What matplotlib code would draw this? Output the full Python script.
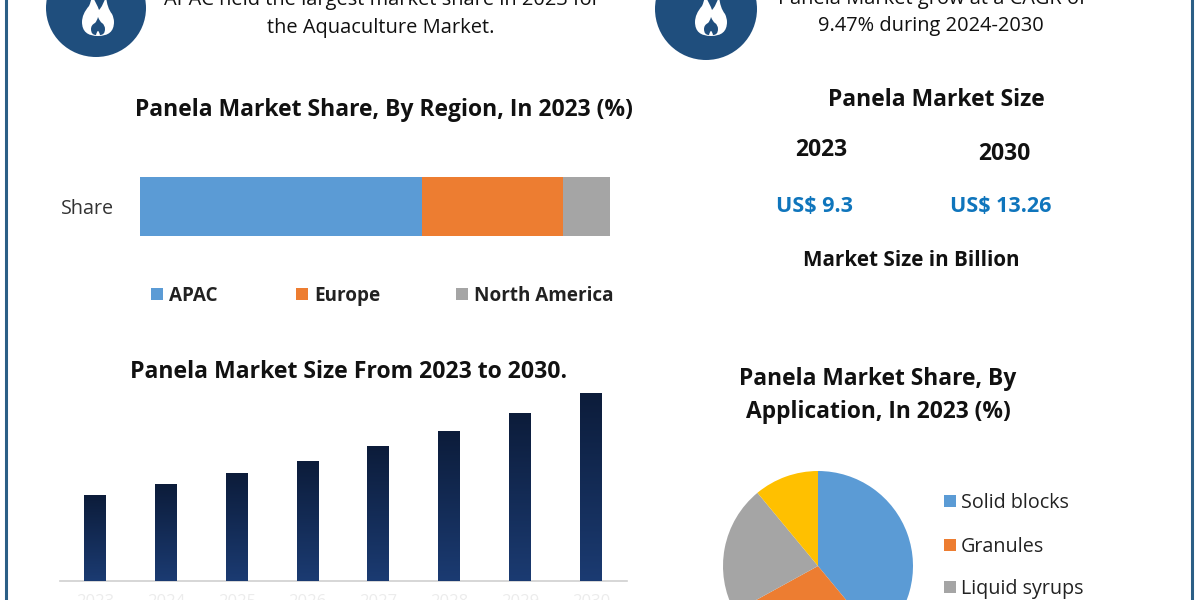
import matplotlib
matplotlib.use("Agg")
import matplotlib.pyplot as plt
from matplotlib.patches import Ellipse, Rectangle, PathPatch
from matplotlib.path import Path
import numpy as np

plt.rcParams['font.family'] = ['Open Sans', 'DejaVu Sans']

W, H = 1200, 600

region_names = ["APAC", "Europe", "North America"]
region_share = [60, 30, 10]
region_colors = ["#5b9bd5", "#ed7d31", "#a5a5a5"]

years = ["2023", "2024", "2025", "2026", "2027", "2028", "2029", "2030"]
# bar heights, the axis has no scale shown
size_values = [86, 97, 108, 120, 135, 150, 168, 188]

app_names = ["Solid blocks", "Granules", "Liquid syrups", ""]
app_share = [39, 28, 22, 11]
app_colors = ["#5b9bd5", "#ed7d31", "#a5a5a5", "#ffc000"]

FRAME = "#2b5f86"
ICON = "#1f4e7d"
TXT = "#111111"
BLUE_TXT = "#0f75bc"


def pixel_axes(x0, y0, x1, y1):
    # y measured from the top of the picture
    return fig.add_axes([x0 / W, 1 - y1 / H, (x1 - x0) / W, (y1 - y0) / H])


fig = plt.figure(figsize=(12, 6), dpi=100, facecolor="white")

# overlay in pixel coordinates for frame, icons and free text
bg = fig.add_axes([0, 0, 1, 1])
bg.set_xlim(0, W)
bg.set_ylim(H, 0)
bg.axis("off")

bg.plot([6, 6], [0, H], color=FRAME, lw=2.2)
bg.plot([1191.5, 1191.5], [0, H], color=FRAME, lw=2.2)


def flame(cx, bottom):
    outer = [(0, 0), (-16, 0), (-16, -14), (-16, -22), (-9, -30), (-7, -34), (-6, -40),
             (-1, -32), (1, -26), (5, -30), (8, -40), (9, -28), (14, -22), (16, -18),
             (16, -14), (16, 0), (0, 0)]
    verts = [(cx + a, bottom + b) for a, b in outer]
    bg.add_patch(PathPatch(Path(verts, [Path.MOVETO] + [Path.CURVE3] * 16), fc="white", ec="none", zorder=4))
    inner = [(-2, -1), (-7, -1), (-7, -7), (-7, -11), (-3, -13), (-1, -15), (0, -19),
             (2, -14), (4, -13), (7, -11), (7, -7), (7, -1), (2, -1), (1, -5), (0, -5), (-1, -5), (-2, -1)]
    verts = [(cx + a, bottom + b) for a, b in inner]
    bg.add_patch(PathPatch(Path(verts, [Path.MOVETO] + [Path.CURVE3] * 16), fc=ICON, ec="none", zorder=5))


bg.add_patch(Ellipse((96, 8), 100, 98, fc=ICON, ec="none"))
flame(98, 36)
bg.add_patch(Ellipse((706, 9), 102, 102, fc=ICON, ec="none"))
flame(711, 36)

bg.text(382, 0, "APAC held the largest market share in 2023 for", ha="center", va="center", fontsize=14.4, color=TXT)
bg.text(381, 28, "the Aquaculture Market.", ha="center", va="center", fontsize=14.4, color=TXT)
bg.text(932, -1, "Panela Market grow at a CAGR of", ha="center", va="center", fontsize=14.4, color=TXT)
bg.text(931, 26, "9.47% during 2024-2030", ha="center", va="center", fontsize=14.4, color=TXT)

bg.text(384, 110, "Panela Market Share, By Region, In 2023 (%)", ha="center", va="center", fontsize=16.5, fontweight="bold", color=TXT)
bg.text(349, 372, "Panela Market Size From 2023 to 2030.", ha="center", va="center", fontsize=16.6, fontweight="bold", color=TXT)
bg.text(936, 100, "Panela Market Size", ha="center", va="center", fontsize=16.5, fontweight="bold", color=TXT)
bg.text(821, 150, "2023", ha="center", va="center", fontsize=16.5, fontweight="bold", color=TXT)
bg.text(1004, 154, "2030", ha="center", va="center", fontsize=16.5, fontweight="bold", color=TXT)
bg.text(814, 207, "US$ 9.3", ha="center", va="center", fontsize=15.5, fontweight="bold", color=BLUE_TXT)
bg.text(1001, 207, "US$ 13.26", ha="center", va="center", fontsize=15.5, fontweight="bold", color=BLUE_TXT)
bg.text(911, 260, "Market Size in Billion", ha="center", va="center", fontsize=14.9, fontweight="bold", color=TXT)
bg.text(878, 379, "Panela Market Share, By", ha="center", va="center", fontsize=16.4, fontweight="bold", color=TXT)
bg.text(878, 412, "Application, In 2023 (%)", ha="center", va="center", fontsize=16.4, fontweight="bold", color=TXT)

# stacked share bar
ax1 = pixel_axes(140, 177, 610, 236)
left = 0
for name, val, col in zip(region_names, region_share, region_colors):
    ax1.barh(["Share"], [val], left=left, height=1.0, color=col)
    left += val
ax1.set_xlim(0, sum(region_share))
ax1.set_ylim(-0.5, 0.5)
ax1.axis("off")
bg.text(88, 209, "Share", ha="center", va="center", fontsize=14.2, color="#333333")

for x, name, col in zip([151, 296, 456], region_names, region_colors):
    bg.add_patch(Rectangle((x, 288), 12, 12, fc=col, ec="none"))
    bg.text(x + 18, 296, name, ha="left", va="center", fontsize=13.6, fontweight="bold", color="#222222")

# size bars with the vertical gradient
ax2 = pixel_axes(60, 380, 627, 581)
xs = np.arange(len(years))
bars = ax2.bar(xs, size_values, width=22 / 71, color="#16305f")
grad = np.linspace(0, 1, 256).reshape(-1, 1)
cmap = matplotlib.colors.LinearSegmentedColormap.from_list("navy", ["#0c1c3a", "#1b3b72"])
for b in bars:
    ax2.imshow(grad, extent=[b.get_x(), b.get_x() + b.get_width(), 0, b.get_height()],
               aspect="auto", cmap=cmap, zorder=3)
ax2.set_xlim(-35 / 71, 7 + 36 / 71)
ax2.set_ylim(0, 201)
for s in ["top", "left", "right"]:
    ax2.spines[s].set_visible(False)
ax2.spines["bottom"].set_color("#d0d0d0")
ax2.spines["bottom"].set_linewidth(1.2)
ax2.set_yticks([])
ax2.set_xticks(xs, years, fontsize=12, color="#ececec")
ax2.tick_params(axis="x", length=0, pad=9)

# pie, runs off the bottom of the picture
ax3 = pixel_axes(723, 471, 913, 661)
ax3.pie(app_share, colors=app_colors, startangle=90, counterclock=False, radius=1.0,
        wedgeprops={"linewidth": 0})
ax3.set_xlim(-1, 1)
ax3.set_ylim(-1, 1)

for y, name, col in zip([501, 545, 587], app_names[:3], app_colors[:3]):
    bg.add_patch(Rectangle((944, y - 6), 12, 12, fc=col, ec="none"))
    bg.text(961, y + 2, name, ha="left", va="center", fontsize=14.2, color="#222222")

fig.savefig("out.png", dpi=100)
